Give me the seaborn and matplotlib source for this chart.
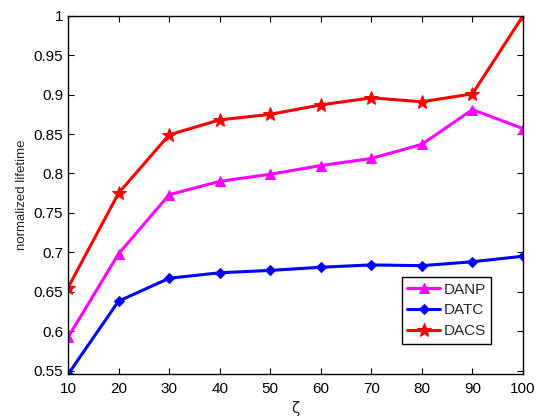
import numpy as np
import pandas as pd
import seaborn as sns
import matplotlib
matplotlib.use("Agg")
import matplotlib.pyplot as plt

zeta = [10, 20, 30, 40, 50, 60, 70, 80, 90, 100]
danp = [0.592, 0.698, 0.773, 0.790, 0.799, 0.810, 0.819, 0.837, 0.881, 0.857]
datc = [0.545, 0.638, 0.667, 0.674, 0.677, 0.681, 0.684, 0.683, 0.688, 0.695]
dacs = [0.655, 0.775, 0.849, 0.868, 0.875, 0.887, 0.896, 0.891, 0.901, 1.000]
series_names = ["DANP", "DATC", "DACS"]
yticks = [0.55, 0.6, 0.65, 0.7, 0.75, 0.8, 0.85, 0.9, 0.95, 1]
ytick_labels = ["0.55", "0.6", "0.65", "0.7", "0.75", "0.8", "0.85", "0.9", "0.95", "1"]

sns.set_theme(style="ticks")
plt.rcParams['font.family'] = ['Liberation Sans', 'DejaVu Sans']

df = pd.DataFrame({
    "zeta": zeta * 3,
    "value": danp + datc + dacs,
    "series": sum([[n] * len(zeta) for n in series_names], []),
})

fig = plt.figure(figsize=(5.54, 4.17), dpi=100)
ax = fig.add_axes([0.1227, 0.103, 0.8213, 0.859])

palette = {"DANP": "#ff00ff", "DATC": "#0000ff", "DACS": "#ff0000"}
markers = {"DANP": "^", "DATC": "D", "DACS": "*"}
sizes = {"DANP": 7.5, "DATC": 5.5, "DACS": 10.5}

for name in series_names:
    sub = df[df.series == name]
    sns.lineplot(data=sub, x="zeta", y="value", ax=ax, color=palette[name],
                 marker=markers[name], markersize=sizes[name], linewidth=2.2,
                 markeredgecolor=palette[name], label=name)

ax.set_xlim(10, 100)
ax.set_ylim(0.5455, 1.0)
ax.set_xticks(zeta)
ax.set_xticklabels([str(z) for z in zeta])
ax.set_yticks(yticks)
ax.set_yticklabels(ytick_labels)
ax.tick_params(direction="in", top=True, right=True, labelsize=11, length=4, width=0.8, colors="black")
ax.tick_params(axis="x", pad=6)
for s in ax.spines.values():
    s.set_visible(True)
    s.set_linewidth(1.0)
    s.set_color("black")
ax.set_xlabel("ζ", fontsize=11, family=['DejaVu Sans'])
ax.set_ylabel("normalized lifetime", fontsize=9.5)
ax.xaxis.labelpad = 3
ax.yaxis.labelpad = 4

leg = ax.legend(loc="lower right", bbox_to_anchor=(0.93, 0.085), fontsize=11,
                frameon=True, fancybox=False, edgecolor="black", framealpha=1,
                handlelength=2.2, handletextpad=0.2, borderpad=0.35, labelspacing=0.45,
                borderaxespad=0)
leg.get_frame().set_linewidth(1.0)

fig.savefig("out.png", dpi=100)
